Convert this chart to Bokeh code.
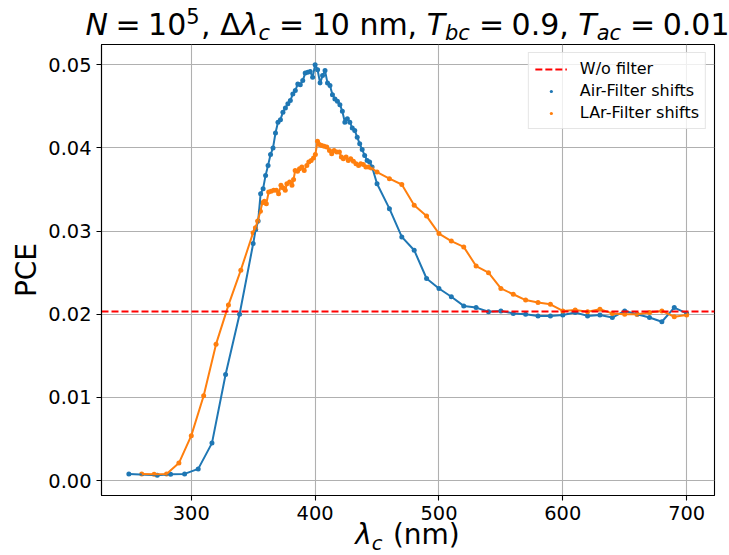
from bokeh.plotting import figure
from bokeh.layouts import column
from bokeh.models import (Div, Legend, LegendItem, FixedTicker,
                          PrintfTickFormatter, Range1d)
from bokeh.embed import file_html
from bokeh.resources import INLINE

# ---------------- data ----------------
air_x = [249.6, 272.5, 283.3, 294.6, 305.6, 316.7, 327.7, 339.0,
         350, 352, 354, 356, 358, 360, 362, 364, 366, 368, 370, 372, 374, 376,
         378, 380, 382, 384, 386, 388, 390, 392, 394, 396, 398, 400, 402, 404,
         406, 408, 410, 412, 414, 416, 418, 420, 422, 424, 426, 428, 430, 432,
         434, 436, 438, 440, 442, 444, 446,
         450, 460, 470, 480, 490, 500, 510, 520, 530, 540, 550, 560, 570, 580,
         590, 600, 610, 620, 630, 640, 650, 660, 670, 680, 690, 700]
air_pce = [0.0008, 0.00064, 0.00076, 0.0008, 0.0014, 0.0045, 0.01275, 0.0200,
           0.0285, 0.0302, 0.0312, 0.0345, 0.0351, 0.0367, 0.0379, 0.0392, 0.0400,
           0.0418, 0.0431, 0.0434, 0.0443, 0.0448, 0.0453, 0.0457, 0.0465, 0.0469,
           0.0477, 0.0476, 0.0481, 0.0490, 0.0491, 0.0492, 0.0485, 0.0500, 0.0494,
           0.0478, 0.0487, 0.0493, 0.0478, 0.0475, 0.0464, 0.0459, 0.0456, 0.0452,
           0.0444, 0.0431, 0.0435, 0.0431, 0.0424, 0.0421, 0.0413, 0.0405, 0.0398,
           0.0391, 0.0385, 0.0383, 0.0377,
           0.0357, 0.0327, 0.0293, 0.0277, 0.0243, 0.0231, 0.0221, 0.0210, 0.0208,
           0.0203, 0.0204, 0.0201, 0.0200, 0.0198, 0.0198, 0.0199, 0.0202, 0.0198,
           0.0199, 0.0196, 0.0204, 0.0200, 0.0196, 0.0191, 0.0208, 0.0201]

lar_x = [260, 270, 280, 290, 300, 310, 320, 330, 340,
         349.9, 351.8, 353.6, 355.8, 357.4, 359.0, 360.6, 362.5, 364.4, 366.5,
         368.7, 370.5, 372.4, 374.0, 375.9, 377.2, 379.4, 381.3, 382.6, 383.9,
         385.8, 387.4, 389.3, 391.2, 393.3, 394.9, 396.8, 398.7, 400.2, 401.9,
         403.5, 405.4, 407.3, 409.4, 411.6, 413.4, 415.3, 417.5, 419.6, 421.2,
         422.8, 425.0, 426.8, 428.7, 430.9, 433.0, 435.1, 436.8, 438.9, 441.0,
         443.2, 445.4,
         450, 460, 470, 480, 490, 500, 510, 520, 530, 540, 550, 560, 570, 580,
         590, 600, 610, 620, 630, 640, 650, 660, 670, 680, 690, 700]
lar_pce = [0.0008, 0.00075, 0.0008, 0.0021, 0.0054, 0.0102, 0.0164, 0.0211, 0.0253,
           0.0298, 0.0304, 0.0312, 0.0324, 0.0334, 0.0336, 0.0333, 0.0347, 0.0348,
           0.0349, 0.0349, 0.0345, 0.0355, 0.0352, 0.0349, 0.0357, 0.0359, 0.0355,
           0.0362, 0.0373, 0.0372, 0.0375, 0.0377, 0.0373, 0.0379, 0.0383, 0.0385,
           0.0388, 0.0392, 0.0408, 0.0404, 0.0403, 0.0402, 0.0401, 0.0397, 0.0393,
           0.0397, 0.0395, 0.0395, 0.0389, 0.0387, 0.0389, 0.0385, 0.0387, 0.0384,
           0.0381, 0.0379, 0.0381, 0.0380, 0.0377, 0.0377, 0.0376,
           0.0371, 0.0363, 0.0356, 0.0331, 0.0318, 0.0297, 0.0288, 0.0281, 0.0258,
           0.0250, 0.0231, 0.0224, 0.0217, 0.0214, 0.0212, 0.0204, 0.0205, 0.0203,
           0.0206, 0.0201, 0.0200, 0.0200, 0.0202, 0.0204, 0.0197, 0.0199]

wo_filter_pce = 0.0203

x_ticks = [300, 400, 500, 600, 700]
y_ticks = [0.0, 0.01, 0.02, 0.03, 0.04, 0.05]
series_labels = ["W/o filter", "Air-Filter shifts", "LAr-Filter shifts"]

# ---------------- styling ----------------
BLUE = "#1f77b4"
ORANGE = "#ff7f0e"
FONT = "DejaVu Sans"
PAGE_W = 729
TITLE_H = 44
MAIN_H = 485
XLAB_H = 26
FRAME_L = 101
FRAME_R = 714
FRAME_CX = (FRAME_L + FRAME_R) / 2

p = figure(width=PAGE_W, height=MAIN_H, output_backend="svg", toolbar_location=None,
           x_range=Range1d(227.5, 722.5), y_range=Range1d(-0.0018, 0.05244),
           min_border_left=FRAME_L, min_border_right=PAGE_W - FRAME_R,
           min_border_top=0, min_border_bottom=34)
p.background_fill_color = "white"
p.border_fill_color = "white"
p.outline_line_color = "black"
p.outline_line_width = 1.1

p.grid.grid_line_color = "#b0b0b0"
p.grid.grid_line_width = 1.1

for ax in (p.xaxis[0], p.yaxis[0]):
    ax.axis_line_color = "black"
    ax.axis_line_width = 1.1
    ax.major_tick_line_color = "black"
    ax.major_tick_line_width = 1.1
    ax.major_tick_out = 5
    ax.major_tick_in = 0
    ax.minor_tick_line_color = None
    ax.major_label_text_font = FONT
    ax.major_label_text_font_size = "19.4px"
    ax.major_label_text_color = "black"
    ax.major_label_standoff = 5

p.xaxis.ticker = FixedTicker(ticks=x_ticks)
p.yaxis.ticker = FixedTicker(ticks=y_ticks)
p.yaxis.formatter = PrintfTickFormatter(format="%.2f")

p.yaxis.axis_label = "PCE"
p.yaxis.axis_label_text_font = FONT
p.yaxis.axis_label_text_font_size = "28px"
p.yaxis.axis_label_text_font_style = "normal"
p.yaxis.axis_label_text_color = "black"
p.yaxis.axis_label_standoff = 2

# ---------------- glyphs ----------------
air_pts = p.scatter(air_x, air_pce, size=5, color=BLUE, line_color=None)
lar_pts = p.scatter(lar_x, lar_pce, size=5, color=ORANGE, line_color=None)
p.line(air_x, air_pce, line_color=BLUE, line_width=2)
p.line(lar_x, lar_pce, line_color=ORANGE, line_width=2)
wo_line = p.hspan(y=[wo_filter_pce], line_color="red", line_width=2, line_dash="7 3")

legend = Legend(items=[LegendItem(label=series_labels[0], renderers=[wo_line]),
                       LegendItem(label=series_labels[1], renderers=[air_pts]),
                       LegendItem(label=series_labels[2], renderers=[lar_pts])],
                location="top_right", margin=8, padding=6, spacing=3,
                label_height=19, glyph_height=8, glyph_width=32,
                label_standoff=13, border_line_color="#cccccc",
                border_line_width=1, background_fill_alpha=0.8,
                label_text_font=FONT, label_text_font_size="16px",
                label_text_color="black")
p.add_layout(legend)


# ---------------- title and x label as rich (sub/superscript) text ----------------
def it(s):
    return "<i>%s</i>" % s


def sup(s, size):
    return ('<span style="font-size:%.1fpx;position:relative;top:%.1fpx;'
            'margin-right:%.1fpx">%s</span>' % (0.7 * size, -0.34 * size, 0.05 * size, s))


def sub(s, size):
    return ('<span style="font-size:%.1fpx;position:relative;top:%.1fpx;'
            'margin-right:%.1fpx;font-style:italic">%s</span>'
            % (0.7 * size, 0.185 * size, 0.05 * size, s))


def eq(size):
    return '<span style="margin:0 %.1fpx">=</span>' % (0.25 * size)


def strip_div(inner_html, h, size, baseline):
    top = baseline - 0.846 * size
    span = 1400
    left = FRAME_CX - span / 2
    html = ('<div style="position:relative;width:%dpx;height:%dpx;">'
            '<div style="position:absolute;left:%.1fpx;width:%dpx;top:%.1fpx;'
            'text-align:center;font-family:\'DejaVu Sans\';font-size:%dpx;'
            'line-height:1;color:#000000;white-space:nowrap;">%s</div></div>'
            % (PAGE_W, h, left, span, top, size, inner_html))
    return Div(text=html, width=PAGE_W, height=h, margin=(0, 0, 0, 0))


T = 30
title_html = (it("N") + eq(T) + "10" + sup("5", T) + ", Δ" + it("λ") + sub("c", T)
              + eq(T) + "10 nm, " + it("T") + sub("bc", T) + eq(T) + "0.9, "
              + it("T") + sub("ac", T) + eq(T) + "0.01")
title_div = strip_div(title_html, TITLE_H, T, 35)

X = 28
xlabel_html = it("λ") + sub("c", X) + " (nm)"
xlabel_div = strip_div(xlabel_html, XLAB_H, X, 545 - (TITLE_H + MAIN_H))

layout = column(title_div, p, xlabel_div, spacing=0)

open("out.html", "w").write(file_html(layout, INLINE))
